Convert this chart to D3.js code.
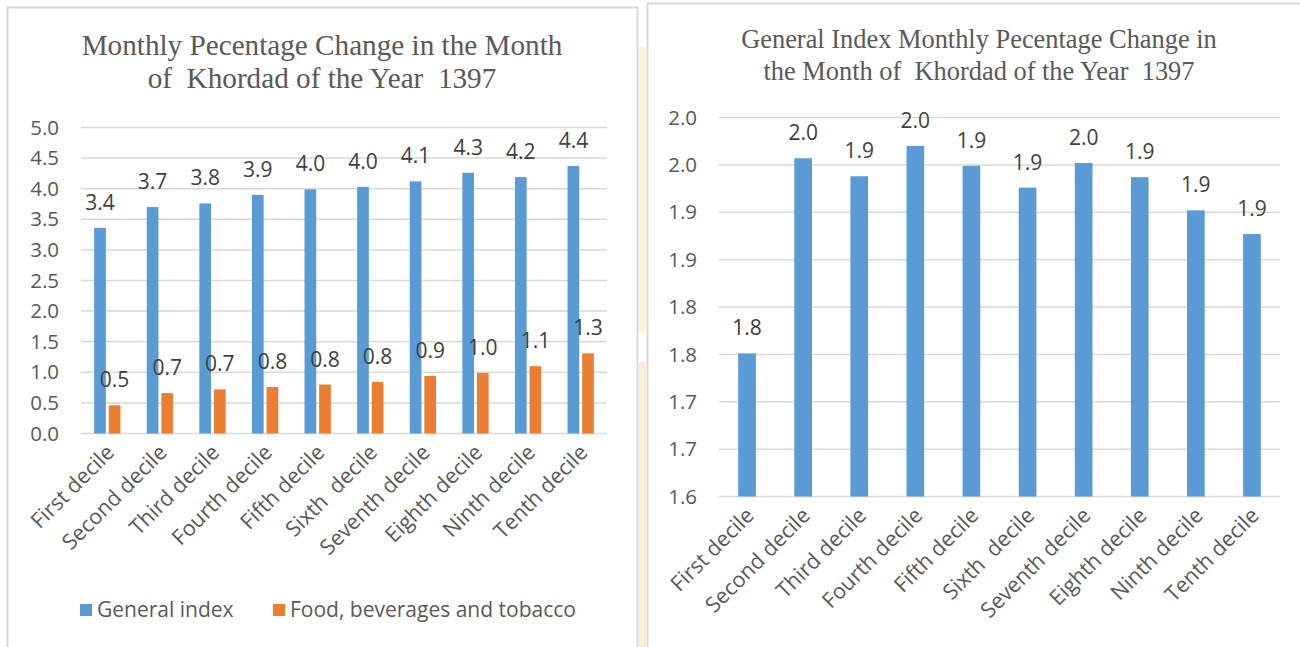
<!DOCTYPE html>
<html>
<head>
<meta charset="utf-8">
<script src="https://d3js.org/d3.v7.min.js"></script>
<style>
  body { margin: 0; background: #fff; }
  text { font-family: "Open Sans", Lato, sans-serif; }
  .ttl { font-family: "Liberation Serif", "DejaVu Serif", serif; fill: #595959; white-space: pre; }
  .tick-lbl { fill: #595959; font-size: 20.5px; }
  .val-lbl { fill: #404040; font-size: 21px; }
  .cat-lbl { fill: #595959; font-size: 21.5px; white-space: pre; }
</style>
</head>
<body>
<div id="chart"></div>
<script>
// categories (note the double space in "Sixth  decile", as in the source)
var deciles = ["First decile", "Second decile", "Third decile", "Fourth decile", "Fifth decile",
               "Sixth  decile", "Seventh decile", "Eighth decile", "Ninth decile", "Tenth decile"];

// left chart series
var generalIndex = [3.36, 3.70, 3.76, 3.90, 3.99, 4.03, 4.12, 4.26, 4.19, 4.37];
var foodBeverages = [0.46, 0.66, 0.72, 0.76, 0.80, 0.84, 0.94, 0.99, 1.10, 1.31];
var seriesNames = ["General index", "Food, beverages and tobacco"];
var leftTicks = [0, 0.5, 1, 1.5, 2, 2.5, 3, 3.5, 4, 4.5, 5];

// right chart series (general index only)
var generalIndexRight = [1.751, 1.957, 1.938, 1.970, 1.949, 1.926, 1.952, 1.937, 1.902, 1.877];
var rightTicks = [1.60, 1.65, 1.70, 1.75, 1.80, 1.85, 1.90, 1.95, 2.00];
var rightTickLabels = ["1.6", "1.7", "1.7", "1.8", "1.8", "1.9", "1.9", "2.0", "2.0"];

var leftTitle = ["Monthly Pecentage Change in the Month", "of  Khordad of the Year  1397"];
var rightTitle = ["General Index Monthly Pecentage Change in", "the Month of  Khordad of the Year  1397"];

var blue = "#5b9bd5", orange = "#ed7d31", grid = "#d9d9d9";
var fmt = d3.format(".1f");

var svg = d3.select("#chart").append("svg")
    .attr("width", 1300)
    .attr("height", 647);

// panel frames
svg.append("path")
    .attr("d", "M7.5,647 V7.5 H637.5 V647")
    .attr("fill", "none")
    .attr("stroke", "#d9d9d9")
    .attr("stroke-width", 2);
svg.append("rect").attr("x", 639).attr("y", 47).attr("width", 7).attr("height", 286).attr("fill", "#fff2d9");
svg.append("rect").attr("x", 639).attr("y", 362).attr("width", 7).attr("height", 285).attr("fill", "#fdebdc");
svg.append("path")
    .attr("d", "M647.5,647 V3.5 H1300")
    .attr("fill", "none")
    .attr("stroke", "#d9d9d9")
    .attr("stroke-width", 2);

function drawTitle(lines, cx, y0, size, gap) {
  svg.selectAll(null)
      .data(lines)
      .enter()
      .append("text")
      .attr("class", "ttl")
      .attr("x", cx)
      .attr("y", function(d, i) { return y0 + i * gap; })
      .attr("text-anchor", "middle")
      .style("font-size", size + "px")
      .text(function(d) { return d; });
}

function drawGrid(g, y, ticks, labels, x0, x1) {
  g.selectAll(".gl")
      .data(ticks)
      .enter()
      .append("line")
      .attr("x1", x0).attr("x2", x1)
      .attr("y1", function(d) { return y(d); })
      .attr("y2", function(d) { return y(d); })
      .attr("stroke", grid)
      .attr("stroke-width", 1.5);
  g.selectAll(".tl")
      .data(ticks)
      .enter()
      .append("text")
      .attr("class", "tick-lbl")
      .attr("x", x0 - 22)
      .attr("y", function(d) { return y(d); })
      .attr("dy", "0.35em")
      .attr("text-anchor", "end")
      .text(function(d, i) { return labels ? labels[i] : fmt(d); });
}

function drawCats(g, x, yAxis) {
  g.selectAll(".cl")
      .data(deciles)
      .enter()
      .append("text")
      .attr("class", "cat-lbl")
      .attr("text-anchor", "end")
      .attr("transform", function(d) {
        return "translate(" + (x(d) + x.bandwidth() / 2 + 3) + "," + (yAxis + 15) + ") rotate(-45)";
      })
      .attr("dy", "0.35em")
      .text(function(d) { return d; });
}

// ---------- left chart ----------
var L = {x0: 81, x1: 607, top: 127.5, bottom: 433.5};
var xL = d3.scaleBand().domain(deciles).range([L.x0, L.x1]).paddingInner(0.5).paddingOuter(0.25);
var xSub = d3.scaleBand().domain([0, 1]).range([0, xL.bandwidth()]).paddingInner(0.2);
var yL = d3.scaleLinear().domain([0, 5]).range([L.bottom, L.top]);

var gL = svg.append("g");
drawTitle(leftTitle, 322, 55, 29.2, 33);
drawGrid(gL, yL, leftTicks, null, L.x0, L.x1);

var leftSeries = [generalIndex, foodBeverages];
leftSeries.forEach(function(vals, s) {
  var col = s === 0 ? blue : orange;
  gL.selectAll(".bar" + s)
      .data(vals)
      .enter()
      .append("rect")
      .attr("x", function(d, i) { return xL(deciles[i]) + xSub(s); })
      .attr("width", xSub.bandwidth())
      .attr("y", function(d) { return yL(d); })
      .attr("height", function(d) { return L.bottom - yL(d); })
      .attr("fill", col);
  gL.selectAll(".lbl" + s)
      .data(vals)
      .enter()
      .append("text")
      .attr("class", "val-lbl")
      .attr("text-anchor", "middle")
      .attr("x", function(d, i) { return xL(deciles[i]) + xSub(s) + xSub.bandwidth() / 2; })
      .attr("y", function(d) { return yL(d) - 18; })
      .text(function(d) { return fmt(d); });
});
drawCats(gL, xL, L.bottom);

// legend
var legX = [80, 273];
var leg = gL.selectAll(".leg")
    .data(seriesNames)
    .enter()
    .append("g")
    .attr("transform", function(d, i) { return "translate(" + legX[i] + ",604)"; });
leg.append("rect")
    .attr("width", 12).attr("height", 12)
    .attr("fill", function(d, i) { return i === 0 ? blue : orange; });
leg.append("text")
    .attr("class", "tick-lbl")
    .attr("x", 17)
    .attr("y", 6)
    .attr("dy", "0.35em")
    .style("font-size", "21px")
    .text(function(d) { return d; });

// ---------- right chart ----------
var R = {x0: 719, x1: 1280, top: 117.5, bottom: 496.5};
var xR = d3.scaleBand().domain(deciles).range([R.x0, R.x1]).paddingInner(0.685).paddingOuter(0.3425);
var yR = d3.scaleLinear().domain([1.6, 2.0]).range([R.bottom, R.top]);

var gR = svg.append("g");
drawTitle(rightTitle, 979, 48, 26.4, 32);
drawGrid(gR, yR, rightTicks, rightTickLabels, R.x0, R.x1);

gR.selectAll(".barR")
    .data(generalIndexRight)
    .enter()
    .append("rect")
    .attr("x", function(d, i) { return xR(deciles[i]); })
    .attr("width", xR.bandwidth())
    .attr("y", function(d) { return yR(d); })
    .attr("height", function(d) { return R.bottom - yR(d); })
    .attr("fill", blue);
gR.selectAll(".lblR")
    .data(generalIndexRight)
    .enter()
    .append("text")
    .attr("class", "val-lbl")
    .attr("text-anchor", "middle")
    .attr("x", function(d, i) { return xR(deciles[i]) + xR.bandwidth() / 2; })
    .attr("y", function(d) { return yR(d) - 18; })
    .text(function(d) { return fmt(d); });
drawCats(gR, xR, R.bottom);
</script>
</body>
</html>
